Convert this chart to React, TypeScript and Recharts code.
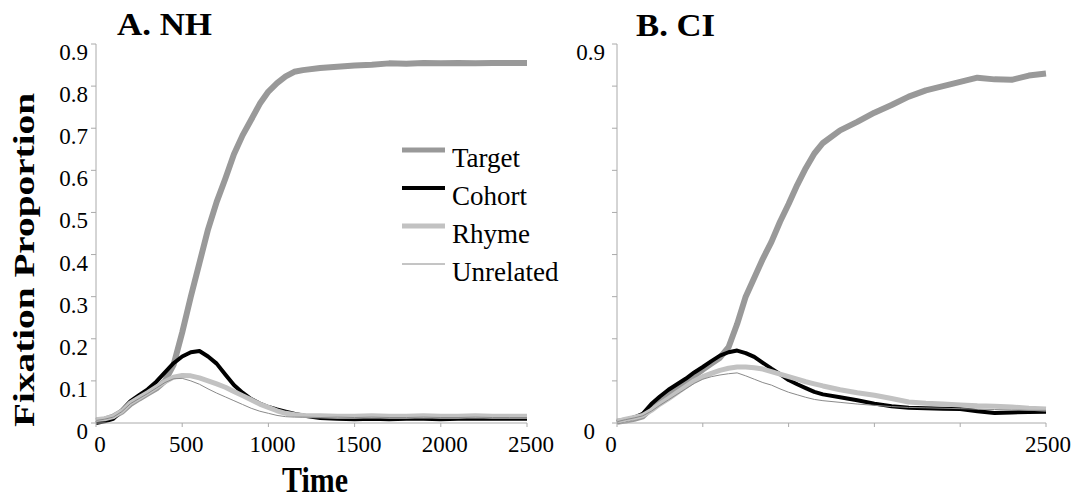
import React from 'react';
import { LineChart, Line, XAxis, YAxis, Legend } from 'recharts';

// sample times (ms) shared by both panels
const times = [
  0, 50, 100, 150, 200, 250, 300, 350, 400, 450, 500, 550, 600, 650, 700, 750, 800, 850, 900, 950,
  1000, 1050, 1100, 1150, 1200, 1300, 1400, 1500, 1600, 1700, 1800, 1900, 2000, 2100, 2200, 2300, 2400, 2500,
];

// A. NH
const nhTarget = [
  0.005, 0.008, 0.015, 0.027, 0.045, 0.058, 0.07, 0.082, 0.1, 0.138, 0.215, 0.3, 0.38, 0.46, 0.525, 0.58, 0.638, 0.683, 0.72, 0.758,
  0.787, 0.807, 0.823, 0.834, 0.838, 0.843, 0.846, 0.849, 0.851, 0.854, 0.853, 0.855, 0.854, 0.855, 0.854, 0.855, 0.855, 0.855,
];
const nhCohort = [
  0.0, 0.004, 0.01, 0.03, 0.052, 0.066, 0.08, 0.098, 0.12, 0.142, 0.158, 0.168, 0.171, 0.158, 0.141, 0.115, 0.09, 0.072, 0.057, 0.046,
  0.038, 0.032, 0.027, 0.022, 0.018, 0.012, 0.01, 0.009, 0.01, 0.009, 0.01, 0.01, 0.009, 0.01, 0.01, 0.01, 0.01, 0.01,
];
const nhRhyme = [
  0.008, 0.01, 0.015, 0.028, 0.048, 0.06, 0.072, 0.085, 0.098, 0.109, 0.113, 0.112, 0.107, 0.1, 0.093, 0.085, 0.075, 0.065, 0.055, 0.045,
  0.037, 0.029, 0.023, 0.02, 0.018, 0.017, 0.016, 0.016, 0.017, 0.016, 0.016, 0.017, 0.016, 0.016, 0.017, 0.016, 0.016, 0.016,
];
const nhUnrelated = [
  0.006, 0.009, 0.014, 0.027, 0.046, 0.058, 0.07, 0.083, 0.096, 0.105, 0.106, 0.1, 0.092, 0.081, 0.071, 0.062, 0.053, 0.044, 0.035, 0.028,
  0.023, 0.018, 0.015, 0.014, 0.014, 0.013, 0.014, 0.013, 0.014, 0.013, 0.013, 0.014, 0.013, 0.013, 0.014, 0.013, 0.013, 0.013,
];

// B. CI
const ciTarget = [
  0.003, 0.006, 0.01, 0.016, 0.035, 0.052, 0.067, 0.082, 0.097, 0.112, 0.127, 0.141, 0.155, 0.18, 0.235, 0.3, 0.345, 0.39, 0.43, 0.478,
  0.52, 0.565, 0.605, 0.64, 0.665, 0.695, 0.715, 0.737, 0.755, 0.775, 0.79, 0.8, 0.81, 0.82, 0.816, 0.815, 0.825, 0.83,
];
const ciCohort = [
  0.002, 0.008, 0.013, 0.022, 0.045, 0.063, 0.079, 0.092, 0.105, 0.12, 0.133, 0.147, 0.16, 0.168, 0.172, 0.166, 0.157, 0.143, 0.129, 0.116,
  0.102, 0.092, 0.083, 0.074, 0.068, 0.061, 0.054, 0.046, 0.04, 0.036, 0.035, 0.034, 0.033, 0.028, 0.024, 0.025, 0.026, 0.027,
];
const ciRhyme = [
  0.004, 0.009, 0.013, 0.018, 0.03, 0.045, 0.058, 0.072, 0.086, 0.1, 0.11, 0.118, 0.125, 0.13, 0.133, 0.133, 0.131, 0.128, 0.122, 0.116,
  0.11, 0.104, 0.098, 0.093, 0.088, 0.079, 0.072, 0.066, 0.058, 0.05, 0.047, 0.045, 0.043, 0.041, 0.04, 0.038, 0.035, 0.033,
];
const ciUnrelated = [
  0.003, 0.008, 0.012, 0.017, 0.028, 0.042, 0.055, 0.068, 0.081, 0.094, 0.104, 0.11, 0.114, 0.117, 0.119, 0.112, 0.104, 0.096, 0.09, 0.081,
  0.073, 0.067, 0.061, 0.056, 0.053, 0.049, 0.045, 0.042, 0.039, 0.037, 0.036, 0.035, 0.034, 0.033, 0.032, 0.031, 0.03, 0.03,
];

const xTicks = [0, 500, 1000, 1500, 2000, 2500];
const yTicks = [0, 0.1, 0.2, 0.3, 0.4, 0.5, 0.6, 0.7, 0.8, 0.9];
const nhYLabels = ['0', '0.1', '0.2', '0.3', '0.4', '0.5', '0.6', '0.7', '0.8', '0.9'];
const nhXLabels = ['0', '500', '1000', '1500', '2000', '2500'];
const ciYLabels = ['0', '', '', '', '', '', '', '', '', '0.9'];
const ciXLabels = ['0', '', '', '', '', '2500'];

const series = [
  { key: 'target', name: 'Target', color: '#999999', width: 6 },
  { key: 'cohort', name: 'Cohort', color: '#000000', width: 4 },
  { key: 'rhyme', name: 'Rhyme', color: '#c2c2c2', width: 5 },
  { key: 'unrelated', name: 'Unrelated', color: '#8a8a8a', width: 1 },
];

const nhData = times.map((t, i) => ({
  t, target: nhTarget[i], cohort: nhCohort[i], rhyme: nhRhyme[i], unrelated: nhUnrelated[i],
}));
const ciData = times.map((t, i) => ({
  t, target: ciTarget[i], cohort: ciCohort[i], rhyme: ciRhyme[i], unrelated: ciUnrelated[i],
}));

const SERIF = '"Liberation Serif", "Times New Roman", serif';
const AXIS = '#aaaaaa';

const AxisTick = (props: any) => {
  const { x, y, index, labels, dx, dy, anchor } = props;
  const text = labels[index];
  if (!text) return null;
  const off = typeof dx === 'function' ? dx(index) : dx;
  return (
    <text x={x + off} y={y + dy} textAnchor={anchor} fontFamily={SERIF} fontSize={23} fill="#000">
      {text}
    </text>
  );
};

const LegendBox = () => (
  <svg width={200} height={160} style={{ overflow: 'visible' }}>
    {series.map((s, i) => (
      <g key={s.key}>
        <line x1={2} x2={45} y1={20 + i * 38} y2={20 + i * 38} stroke={s.color} strokeWidth={Math.min(s.width, 5)} />
        <text x={52} y={37 + i * 38} fontFamily={SERIF} fontSize={27} fill="#000">
          {s.name}
        </text>
      </g>
    ))}
  </svg>
);

const renderLines = () =>
  series.map((s) => (
    <Line
      key={s.key}
      type="linear"
      dataKey={s.key}
      name={s.name}
      stroke={s.color}
      strokeWidth={s.width}
      strokeLinejoin="round"
      dot={false}
      activeDot={false}
      isAnimationActive={false}
    />
  ));

const App = () => {
  return (
    <div style={{ position: 'fixed', left: 0, top: 0, width: 1085, height: 500, background: '#fff' }}>
      <div style={{ position: 'absolute', left: 0, top: 0 }}>
        <LineChart width={580} height={500} data={nhData} margin={{ top: 44, right: 53, bottom: 47, left: 0 }}>
          <XAxis
            type="number"
            dataKey="t"
            domain={[0, 2500]}
            ticks={xTicks}
            interval={0}
            height={30}
            stroke={AXIS}
            tickSize={4}
            tick={(p: any) => <AxisTick {...p} labels={nhXLabels} dx={4} dy={23} anchor="middle" />}
          />
          <YAxis
            type="number"
            domain={[0, 0.9]}
            ticks={yTicks}
            interval={0}
            width={96}
            stroke={AXIS}
            tickSize={5}
            tick={(p: any) => <AxisTick {...p} labels={nhYLabels} dx={-1} dy={16} anchor="end" />}
          />
          <Legend
            layout="vertical"
            align="center"
            verticalAlign="middle"
            content={<LegendBox />}
            wrapperStyle={{ left: 400, top: 130, width: 200, height: 160 }}
          />
          {renderLines()}
        </LineChart>
      </div>
      <div style={{ position: 'absolute', left: 545, top: 0 }}>
        <LineChart width={540} height={500} data={ciData} margin={{ top: 44, right: 39, bottom: 47, left: 0 }}>
          <XAxis
            type="number"
            dataKey="t"
            domain={[0, 2500]}
            ticks={xTicks}
            interval={0}
            height={30}
            stroke={AXIS}
            tickSize={4}
            tick={(p: any) => (
              <AxisTick {...p} labels={ciXLabels} dx={(i: number) => (i === 0 ? -6 : 2)} dy={23} anchor="middle" />
            )}
          />
          <YAxis
            type="number"
            domain={[0, 0.9]}
            ticks={yTicks}
            interval={0}
            width={72}
            stroke={AXIS}
            tickSize={5}
            tick={(p: any) => (
              <AxisTick {...p} labels={ciYLabels} dx={(i: number) => (i === 0 ? -15 : -5)} dy={16} anchor="end" />
            )}
          />
          {renderLines()}
        </LineChart>
      </div>
      <svg width={1085} height={500} style={{ position: 'absolute', left: 0, top: 0, pointerEvents: 'none' }}>
        <text x={117} y={35} fontFamily={SERIF} fontWeight="bold" fontSize={31} textLength={95} lengthAdjust="spacingAndGlyphs" fill="#000">
          A. NH
        </text>
        <text x={636} y={36} fontFamily={SERIF} fontWeight="bold" fontSize={32} textLength={79} lengthAdjust="spacingAndGlyphs" fill="#000">
          B. CI
        </text>
        <text x={282} y={492} fontFamily={SERIF} fontWeight="bold" fontSize={35} textLength={66} lengthAdjust="spacingAndGlyphs" fill="#000">
          Time
        </text>
        <text
          x={0}
          y={0}
          transform="translate(34,260) rotate(-90)"
          textAnchor="middle"
          fontFamily={SERIF}
          fontWeight="bold"
          fontSize={30}
          textLength={334}
          lengthAdjust="spacingAndGlyphs"
          fill="#000"
        >
          Fixation Proportion
        </text>
      </svg>
    </div>
  );
};

export default App;
